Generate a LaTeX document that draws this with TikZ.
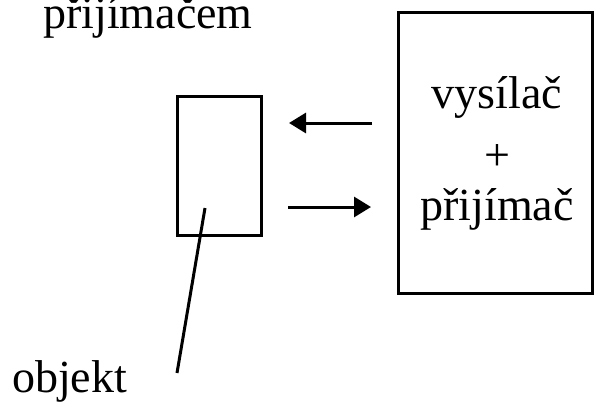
\documentclass[tikz,border=0pt]{standalone}
\usepackage{fontspec}
\setmainfont{Liberation Serif}
\usetikzlibrary{arrows.meta}
\tikzset{
  big/.style={font=\fontsize{46}{56}\selectfont, inner sep=0pt},
  frame/.style={draw, line width=3pt, inner sep=0pt},
  beam/.style={line width=3pt, -{Triangle[length=17pt,width=20pt]}},
  leader/.style={line width=3pt}
}
\begin{document}
\begin{tikzpicture}[x=1pt,y=-1pt]
  \useasboundingbox (0,0) rectangle (594,404);
  % caption cut off at the top
  \node[big, anchor=base west] (cap) at (43,29) {přijímačem};
  % transceiver
  \node[frame, minimum width=194pt, minimum height=280pt] (tr) at (495,153) {};
  \node[big, anchor=base] (t1) at (497,108) {vysílač};
  \node[big, anchor=base] (t2) at (497,170) {+};
  \node[big, anchor=base] (t3) at (497,220) {přijímač};
  % target object
  \node[frame, minimum width=84pt, minimum height=139pt] (obj) at (219,165.5) {};
  % signal paths
  \coordinate (r1) at (372,123);
  \coordinate (l1) at (289,123);
  \coordinate (l2) at (288,207);
  \coordinate (r2) at (371,207);
  \draw[beam] (r1) -- (l1);
  \draw[beam] (l2) -- (r2);
  % label with leader
  \node[big, anchor=base west] (lab) at (12,392) {objekt};
  \coordinate (p) at (205,208);
  \coordinate (q) at (177,373);
  \draw[leader] (p) -- (q);
\end{tikzpicture}
\end{document}
